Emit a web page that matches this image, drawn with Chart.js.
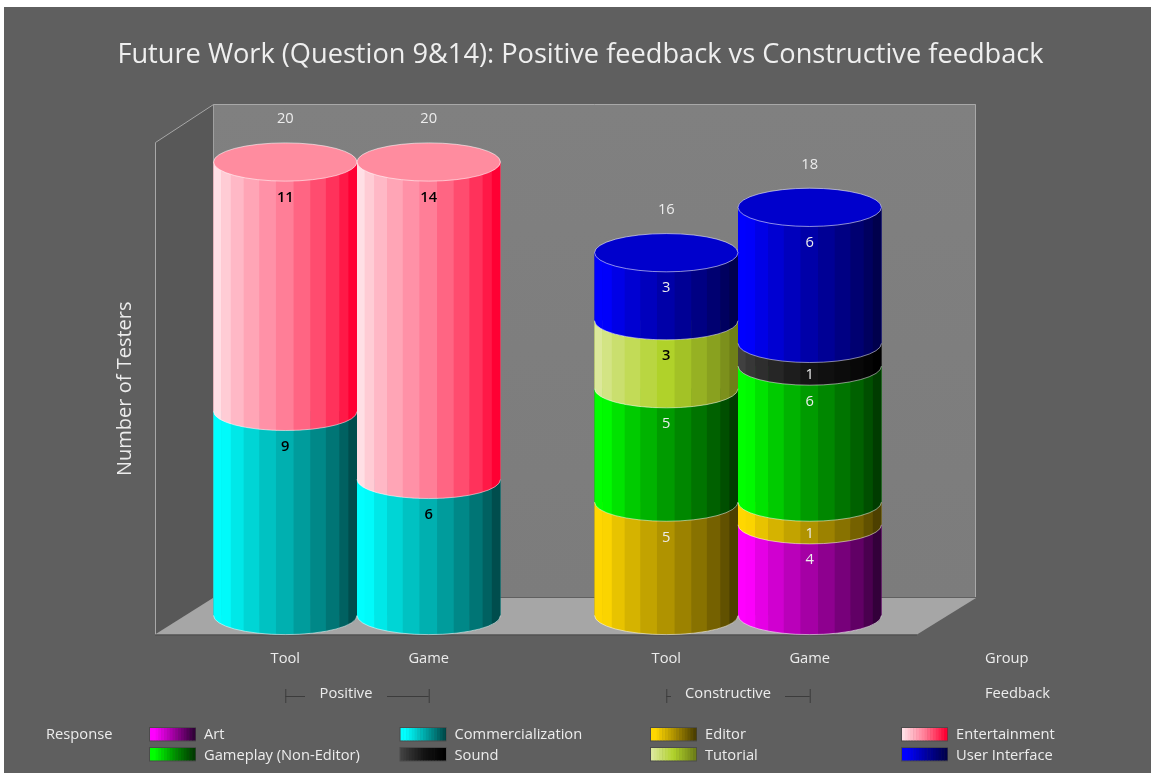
<!DOCTYPE html>
<html>
<head>
<meta charset="utf-8">
<style>html,body{margin:0;padding:0;background:#fff}canvas{display:block}#w{width:1151px;height:773px;position:relative}</style>
<script src="https://cdn.jsdelivr.net/npm/chart.js@4/dist/chart.umd.min.js"></script>
</head>
<body>
<div id="w"><canvas id="c" width="1151" height="773"></canvas></div>
<script>
const titleText = 'Future Work (Question 9&14): Positive feedback vs Constructive feedback';
const yAxisTitle = 'Number of Testers';
const feedbackLevels = ['Positive', 'Constructive'];
const groupLevels = ['Tool', 'Game'];
const responses = ['Art', 'Commercialization', 'Editor', 'Entertainment', 'Gameplay (Non-Editor)', 'Sound', 'Tutorial', 'User Interface'];
// values per feedback level [Positive, Constructive]
const artTool = [null, null],   artGame = [null, 4];
const commTool = [9, null],     commGame = [6, null];
const editorTool = [null, 5],   editorGame = [null, 1];
const entTool = [11, null],     entGame = [14, null];
const gameplayTool = [null, 5], gameplayGame = [null, 6];
const soundTool = [null, null], soundGame = [null, 1];
const tutorialTool = [null, 3], tutorialGame = [null, null];
const uiTool = [null, 3],       uiGame = [null, 6];

const toolSeries = [artTool, commTool, editorTool, entTool, gameplayTool, soundTool, tutorialTool, uiTool];
const gameSeries = [artGame, commGame, editorGame, entGame, gameplayGame, soundGame, tutorialGame, uiGame];

// colour ramps: light side, middle, dark side; label colour; cap colour; share of the width held at the light colour
const ramps = [
  ['#ff00ff', '#9c009c', '#33003a', '#ffffff', '#b000b0', .08],
  ['#00ffff', '#00a8a8', '#004d4d', '#000000', '#00c0c0', .08],
  ['#ffd700', '#a88c00', '#4d4000', '#ffffff', '#d0b000', .08],
  ['#ffdfe5', '#ff7e97', '#ff0033', '#000000', '#ff8c9f', 0],
  ['#00ff00', '#009200', '#003c00', '#ffffff', '#00c000', .08],
  ['#404040', '#141414', '#000000', '#ffffff', '#202020', 0],
  ['#dce89b', '#b0d22a', '#6f8018', '#000000', '#c0d850', 0],
  ['#0000ff', '#0000a0', '#00004d', '#ffffff', '#0000cc', .08]
];
const bandStops = [0, .053, .12, .21, .319, .435, .558, .674, .783, .876, .94, 1];

function hex(h){return [1,3,5].map(i=>parseInt(h.substr(i,2),16));}
function bandColor(r, t0){
  const t = Math.max(0,(t0-r[5])/(1-r[5]));
  const a = t < .5 ? hex(r[0]) : hex(r[1]);
  const b = t < .5 ? hex(r[1]) : hex(r[2]);
  const k = t < .5 ? t*2 : (t-.5)*2;
  return 'rgb(' + a.map((v,i)=>Math.round(v+(b[i]-v)*k)).join(',') + ')';
}
const datasets = [];
responses.forEach((name,i)=>{
  datasets.push({label:name, stack:groupLevels[0], data:toolSeries[i], backgroundColor:ramps[i][1], rampIndex:i});
  datasets.push({label:name, stack:groupLevels[1], data:gameSeries[i], backgroundColor:ramps[i][1], rampIndex:i});
});

const FONT = '"Open Sans","Noto Sans",sans-serif';
const TXT = '#ececec';
const SMALL = '14.7px ' + FONT;
const ELL = 0.1333; // ellipse ry / bar width

function text(ctx, s, x, y, font, color, align){
  ctx.font = font; ctx.fillStyle = color; ctx.textAlign = align||'center'; ctx.textBaseline='middle';
  ctx.fillText(s, x, y+1);
}
function line(ctx, pts, color, w){
  ctx.beginPath(); pts.forEach((p,i)=> i?ctx.lineTo(p[0],p[1]):ctx.moveTo(p[0],p[1]));
  ctx.strokeStyle=color; ctx.lineWidth=w||1; ctx.stroke();
}
const scene = {
  id:'scene',
  afterLayout(chart){
    // the title sits centred on the whole figure, not on the plot
    chart.titleBlock.left = 30.5;
    chart.titleBlock.right = 1130.5;
  },
  beforeDraw(chart){
    const c = chart.ctx, a = chart.chartArea;
    c.save();
    c.fillStyle='#ffffff'; c.fillRect(0,0,1151,773);
    c.fillStyle='#5f5f5f'; c.fillRect(4,7,1147,766);
    const fl=a.left-11.5, fr=a.right-11.5, fy=634.5, by=598, topY=104;
    const bl=fl+58, br=fr+59;
    const g=c.createLinearGradient(0,topY,0,by); g.addColorStop(0,'#808080'); g.addColorStop(1,'#7c7c7c');
    c.fillStyle=g; c.fillRect(bl,topY,br-bl,by-topY);
    c.beginPath(); c.moveTo(fl,142.5); c.lineTo(bl,topY); c.lineTo(bl,by); c.lineTo(fl,fy); c.closePath();
    c.fillStyle='#585858'; c.fill();
    c.beginPath(); c.moveTo(fl,fy); c.lineTo(fr,fy); c.lineTo(br,by); c.lineTo(bl,by); c.closePath();
    c.fillStyle='#a6a6a6'; c.fill();
    line(c,[[fl+.5,fy],[fl+.5,142.5],[bl+.5,topY+.5],[br-.5,topY+.5],[br-.5,by]],'#a8a8a8',1);
    line(c,[[bl,by-.5],[br,by-.5]],'#606060',1);
    line(c,[[bl+.5,topY],[bl+.5,by]],'#a0a0a0',1);
    line(c,[[fl,fy+.5],[fr,fy+.5]],'#4a4a4a',1);
    c.restore();
  },
  afterDatasetsDraw(chart){
    const c = chart.ctx;
    c.save();
    const tops = {};
    // paint stacks bottom-up, so the lower edge of each segment overlaps the one below
    const segs = [];
    chart.data.datasets.forEach((ds,di)=>{
      const meta = chart.getDatasetMeta(di);
      meta.data.forEach((bar,j)=>{
        const v = ds.data[j];
        if(v===null||v===undefined) return;
        segs.push({bar,v,ds,j,key:ds.stack+j});
      });
    });
    segs.sort((p,q)=>q.bar.base-p.bar.base);
    segs.forEach(s=>{
      const {x,y,base,width} = s.bar.getProps(['x','y','base','width'],true);
      const r=width/2, ry=width*ELL, ramp=ramps[s.ds.rampIndex];
      for(let i=0;i<bandStops.length-1;i++){
        const x0=x-r+bandStops[i]*width, x1=x-r+bandStops[i+1]*width+(i<bandStops.length-2?.6:0);
        const f=u=>{const d=(u-x)/r; return ry*Math.sqrt(Math.max(0,1-d*d));};
        c.beginPath(); c.moveTo(x0,y);
        c.lineTo(x1,y);
        const steps=8;
        for(let k=0;k<=steps;k++){const u=x1+(x0-x1)*k/steps; c.lineTo(u,base+f(u));}
        c.closePath();
        c.fillStyle=bandColor(ramp,i/(bandStops.length-2)); c.fill();
      }
      c.beginPath(); c.ellipse(x,base,r,ry,0,0,Math.PI); c.strokeStyle='rgba(255,255,255,.5)'; c.lineWidth=1; c.stroke();
      const t=tops[s.key];
      if(!t||y<t.y) tops[s.key]={y,x,r,ry,ramp};
    });
    Object.values(tops).forEach(t=>{
      c.beginPath(); c.ellipse(t.x,t.y,t.r,t.ry,0,0,Math.PI*2);
      c.fillStyle=t.ramp[4]; c.fill(); c.strokeStyle='rgba(255,255,255,.55)'; c.lineWidth=1; c.stroke();
    });
    // value labels
    segs.forEach(s=>{
      const {x,y,base}=s.bar.getProps(['x','y','base'],true);
      const off=Math.min(34.5,18.5+(base-y)/2+1);
      const ramp=ramps[s.ds.rampIndex];
      const dark=ramp[3]==='#000000';
      text(c,String(s.v),x,y+off,(dark?'600 ':'')+SMALL,dark?'#000':TXT);
    });
    // stack totals
    Object.values(tops).forEach(t=>{
      const total=Math.round(chart.scales.y.getValueForPixel(t.y));
      text(c,String(total),t.x,t.y-44,SMALL,TXT);
    });
    // group and feedback rows
    const g={};
    segs.forEach(s=>{g[s.ds.stack+s.j]={x:s.bar.x,stack:s.ds.stack,j:s.j};});
    Object.values(g).forEach(o=>text(c,o.stack,o.x,658,SMALL,TXT));
    text(c,'Group',985,658,SMALL,TXT,'left');
    text(c,'Feedback',985,693,SMALL,TXT,'left');
    feedbackLevels.forEach((f,j)=>{
      const tool=g[groupLevels[0]+j].x, game=g[groupLevels[1]+j].x;
      const xc = j===0 ? 346 : 728, half = j===0 ? 41 : 57;
      text(c,f,xc,693,SMALL,TXT);
      line(c,[[tool+.5,689],[tool+.5,703]],'#3c3c3c');
      line(c,[[tool,696.5],[xc-half,696.5]],'#3c3c3c');
      line(c,[[xc+half,696.5],[game,696.5]],'#3c3c3c');
      line(c,[[game+.5,689],[game+.5,703]],'#3c3c3c');
    });
    // legend
    text(c,'Response',46,734,SMALL,TXT,'left');
    const cols=[150,400.5,651,902], rows=[728,748];
    responses.forEach((name,i)=>{
      const col=i%4, row=Math.floor(i/4), sx=cols[col], sy=rows[row], sw=45, sh=12.5;
      const nb=16;
      for(let b=0;b<nb;b++){
        c.fillStyle=bandColor(ramps[i],b/(nb-1));
        c.fillRect(sx+sw*b/nb,sy,sw/nb+.5,sh);
      }
      c.strokeStyle='rgba(0,0,0,.2)'; c.lineWidth=1; c.strokeRect(sx-.5,sy-.5,sw+1,sh+1);
      text(c,name,sx+54,rows[row]+(row?7:6),SMALL,TXT,'left');
    });
    c.restore();
  }
};

new Chart(document.getElementById('c'), {
  type:'bar',
  data:{labels:feedbackLevels, datasets},
  options:{
    responsive:false, animation:false,
    layout:{padding:{left:109, right:222.5, top:36, bottom:157.5}},
    datasets:{bar:{categoryPercentage:0.753, barPercentage:1, borderWidth:0}},
    plugins:{
      legend:{display:false}, tooltip:{enabled:false},
      title:{display:true, text:titleText, color:'#efefef', align:'center', fullSize:true,
        font:{family:FONT, size:27.2, weight:'400', lineHeight:1.2}, padding:{top:2.7, bottom:90.66}}
    },
    scales:{
      x:{display:false, stacked:true, grid:{display:false}},
      y:{stacked:true, min:0, max:20, grid:{display:false}, border:{display:false},
         ticks:{display:false},
         title:{display:true, text:yAxisTitle, color:TXT, font:{family:FONT, size:20}},
         afterFit(s){ s.width=57.5; }}
    }
  },
  plugins:[scene]
});
</script>
</body>
</html>
